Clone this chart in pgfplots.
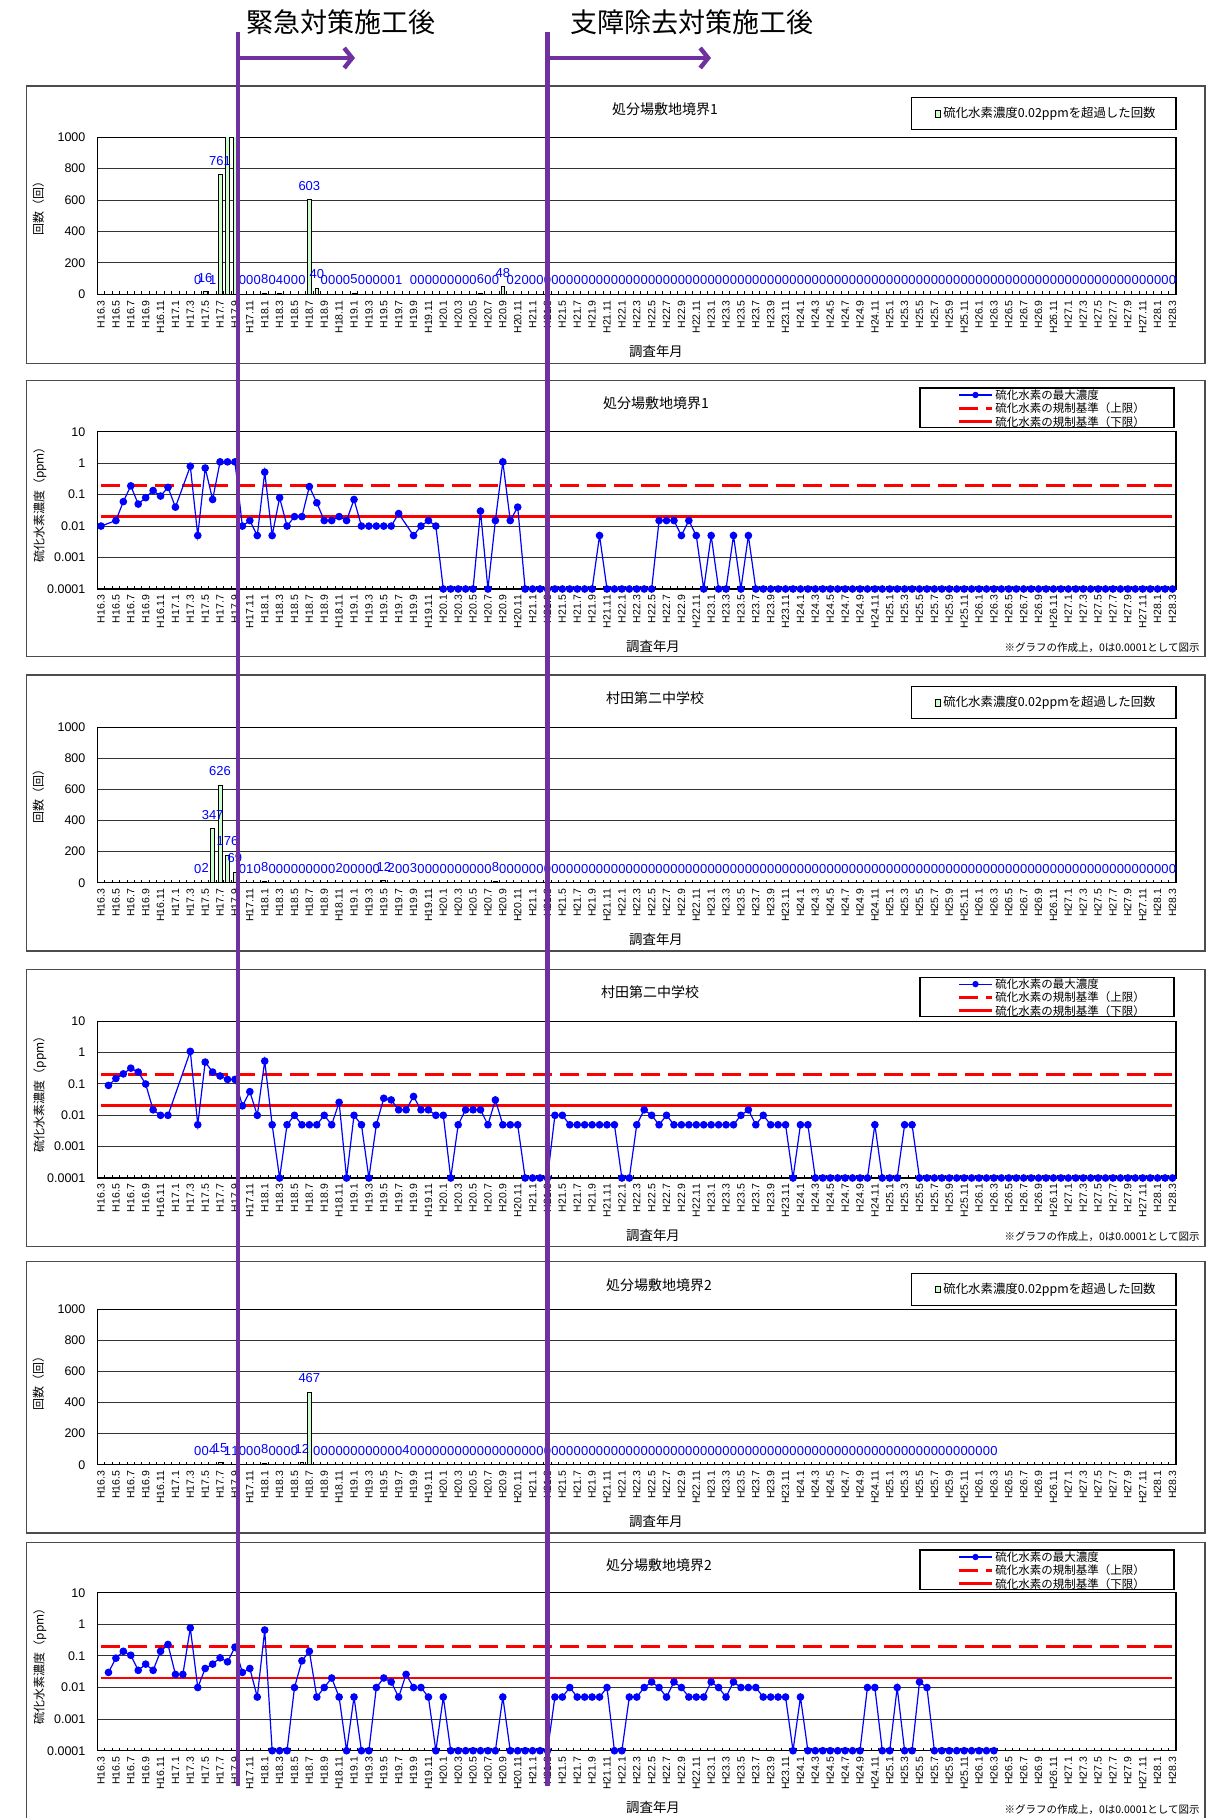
\documentclass[border=0pt]{standalone}
\usepackage{fontspec}
\setmainfont{Liberation Sans}
\newfontfamily\jp{Noto Sans CJK JP}
\usepackage{pgfplots}
\pgfplotsset{compat=1.18}
\usepackage{pgfplotstable}
\usetikzlibrary{calc,arrows.meta}
\definecolor{purp}{RGB}{112,48,160}
\definecolor{barfill}{RGB}{204,255,204}

\newcommand\ftitle{\jp\fontsize{7}{8}\selectfont}
\newcommand\fleg{\jp\fontsize{5.75}{6.5}\selectfont}
\newcommand\fbleg{\jp\fontsize{6.2}{7}\selectfont}
\newcommand\flab{\jp\fontsize{6}{7}\selectfont}
\newcommand\fxlab{\jp\fontsize{6.7}{7.5}\selectfont}
\newcommand\fnote{\jp\fontsize{5.25}{6}\selectfont}
\newcommand\ftop{\jp\fontsize{13.5}{15}\selectfont}

% ---- counts (bars) ----
\pgfplotstableread[row sep=\\]{x y\\
13 0\\14 16\\15 1\\16 761\\19 0\\20 0\\21 0\\22 8\\23 0\\24 4\\25 0\\26 0\\27 0\\28 603\\29 40\\30 0\\31 0\\32 0\\33 0\\34 5\\35 0\\36 0\\37 0\\38 0\\39 0\\40 1\\
42 0\\43 0\\44 0\\45 0\\46 0\\47 0\\48 0\\49 0\\50 0\\51 6\\52 0\\53 0\\54 48\\55 0\\56 2\\
57 0\\58 0\\59 0\\60 0\\61 0\\62 0\\63 0\\64 0\\65 0\\66 0\\67 0\\68 0\\69 0\\70 0\\71 0\\72 0\\73 0\\74 0\\75 0\\76 0\\77 0\\78 0\\79 0\\80 0\\
81 0\\82 0\\83 0\\84 0\\85 0\\86 0\\87 0\\88 0\\89 0\\90 0\\91 0\\92 0\\93 0\\94 0\\95 0\\96 0\\97 0\\98 0\\99 0\\100 0\\101 0\\102 0\\103 0\\104 0\\
105 0\\106 0\\107 0\\108 0\\109 0\\110 0\\111 0\\112 0\\113 0\\114 0\\115 0\\116 0\\117 0\\118 0\\119 0\\120 0\\121 0\\122 0\\123 0\\124 0\\125 0\\
126 0\\127 0\\128 0\\129 0\\130 0\\131 0\\132 0\\133 0\\134 0\\135 0\\136 0\\137 0\\138 0\\139 0\\140 0\\141 0\\142 0\\143 0\\144 0\\
}\barA
\pgfplotstableread[row sep=\\]{x y\\17 1100\\18 1100\\}\barAhi

\pgfplotstableread[row sep=\\]{x y\\
13 0\\14 2\\15 347\\16 626\\17 176\\18 69\\19 0\\20 1\\21 0\\22 8\\23 0\\24 0\\25 0\\26 0\\27 0\\28 0\\29 0\\30 0\\31 0\\32 2\\33 0\\34 0\\35 0\\36 0\\37 0\\38 12\\39 2\\40 0\\41 0\\42 3\\
43 0\\44 0\\45 0\\46 0\\47 0\\48 0\\49 0\\50 0\\51 0\\52 0\\53 8\\54 0\\55 0\\56 0\\57 0\\58 0\\59 0\\60 0\\61 0\\62 0\\63 0\\64 0\\65 0\\66 0\\
67 0\\68 0\\69 0\\70 0\\71 0\\72 0\\73 0\\74 0\\75 0\\76 0\\77 0\\78 0\\79 0\\80 0\\81 0\\82 0\\83 0\\84 0\\85 0\\86 0\\87 0\\88 0\\89 0\\90 0\\
91 0\\92 0\\93 0\\94 0\\95 0\\96 0\\97 0\\98 0\\99 0\\100 0\\101 0\\102 0\\103 0\\104 0\\105 0\\106 0\\107 0\\108 0\\109 0\\110 0\\111 0\\112 0\\
113 0\\114 0\\115 0\\116 0\\117 0\\118 0\\119 0\\120 0\\121 0\\122 0\\123 0\\124 0\\125 0\\126 0\\127 0\\128 0\\129 0\\130 0\\131 0\\132 0\\
133 0\\134 0\\135 0\\136 0\\137 0\\138 0\\139 0\\140 0\\141 0\\142 0\\143 0\\144 0\\
}\barB

\pgfplotstableread[row sep=\\]{x y\\
13 0\\14 0\\15 4\\16 15\\17 1\\18 1\\19 0\\20 0\\21 0\\22 8\\23 0\\24 0\\25 0\\26 0\\27 12\\28 467\\29 0\\30 0\\31 0\\32 0\\33 0\\34 0\\35 0\\36 0\\37 0\\38 0\\39 0\\40 0\\41 4\\
42 0\\43 0\\44 0\\45 0\\46 0\\47 0\\48 0\\49 0\\50 0\\51 0\\52 0\\53 0\\54 0\\55 0\\56 0\\57 0\\58 0\\59 0\\60 0\\61 0\\62 0\\63 0\\64 0\\65 0\\
66 0\\67 0\\68 0\\69 0\\70 0\\71 0\\72 0\\73 0\\74 0\\75 0\\76 0\\77 0\\78 0\\79 0\\80 0\\81 0\\82 0\\83 0\\84 0\\85 0\\86 0\\87 0\\88 0\\89 0\\
90 0\\91 0\\92 0\\93 0\\94 0\\95 0\\96 0\\97 0\\98 0\\99 0\\100 0\\101 0\\102 0\\103 0\\104 0\\105 0\\106 0\\107 0\\108 0\\109 0\\110 0\\
111 0\\112 0\\113 0\\114 0\\115 0\\116 0\\117 0\\118 0\\119 0\\120 0\\
}\barC

% ---- concentrations ----
\pgfplotstableread[row sep=\\]{x y\\
0 0.01\\2 0.015\\3 0.06\\4 0.19\\5 0.05\\6 0.08\\7 0.135\\8 0.09\\9 0.17\\10 0.04\\12 0.8\\13 0.005\\14 0.7\\15 0.07\\16 1.1\\17 1.1\\18 1.1\\
19 0.01\\20 0.015\\21 0.005\\22 0.52\\23 0.005\\24 0.08\\25 0.01\\26 0.02\\27 0.02\\28 0.18\\29 0.055\\30 0.015\\31 0.015\\32 0.02\\33 0.015\\34 0.07\\
35 0.01\\36 0.01\\37 0.01\\38 0.01\\39 0.01\\40 0.025\\42 0.005\\43 0.01\\44 0.015\\45 0.01\\46 0.0001\\47 0.0001\\48 0.0001\\49 0.0001\\50 0.0001\\
51 0.03\\52 0.0001\\53 0.015\\54 1.1\\55 0.015\\56 0.04\\57 0.0001\\58 0.0001\\59 0.0001\\60 0.0001\\61 0.0001\\62 0.0001\\63 0.0001\\64 0.0001\\65 0.0001\\66 0.0001\\
67 0.005\\68 0.0001\\69 0.0001\\70 0.0001\\71 0.0001\\72 0.0001\\73 0.0001\\74 0.0001\\75 0.015\\76 0.015\\77 0.015\\78 0.005\\79 0.015\\80 0.005\\
81 0.0001\\82 0.005\\83 0.0001\\84 0.0001\\85 0.005\\86 0.0001\\87 0.005\\
88 0.0001\\89 0.0001\\90 0.0001\\91 0.0001\\92 0.0001\\93 0.0001\\94 0.0001\\95 0.0001\\96 0.0001\\97 0.0001\\98 0.0001\\99 0.0001\\100 0.0001\\
101 0.0001\\102 0.0001\\103 0.0001\\104 0.0001\\105 0.0001\\106 0.0001\\107 0.0001\\108 0.0001\\109 0.0001\\110 0.0001\\111 0.0001\\112 0.0001\\
113 0.0001\\114 0.0001\\115 0.0001\\116 0.0001\\117 0.0001\\118 0.0001\\119 0.0001\\120 0.0001\\121 0.0001\\122 0.0001\\123 0.0001\\124 0.0001\\
125 0.0001\\126 0.0001\\127 0.0001\\128 0.0001\\129 0.0001\\130 0.0001\\131 0.0001\\132 0.0001\\133 0.0001\\134 0.0001\\135 0.0001\\136 0.0001\\
137 0.0001\\138 0.0001\\139 0.0001\\140 0.0001\\141 0.0001\\142 0.0001\\143 0.0001\\144 0.0001\\
}\concA

\pgfplotstableread[row sep=\\]{x y\\
1 0.09\\2 0.15\\3 0.21\\4 0.32\\5 0.24\\6 0.1\\7 0.015\\8 0.01\\9 0.01\\12 1.1\\13 0.005\\14 0.5\\15 0.24\\16 0.18\\17 0.14\\18 0.14\\
19 0.02\\20 0.057\\21 0.01\\22 0.54\\23 0.005\\24 0.0001\\25 0.005\\26 0.01\\27 0.005\\28 0.005\\29 0.005\\30 0.01\\31 0.005\\32 0.026\\
33 0.0001\\34 0.01\\35 0.005\\36 0.0001\\37 0.005\\38 0.035\\39 0.031\\40 0.015\\41 0.015\\42 0.04\\43 0.015\\44 0.015\\45 0.01\\46 0.01\\
47 0.0001\\48 0.005\\49 0.015\\50 0.015\\51 0.015\\52 0.005\\53 0.031\\54 0.005\\55 0.005\\56 0.005\\57 0.0001\\58 0.0001\\59 0.0001\\60 0.0001\\
61 0.01\\62 0.01\\63 0.005\\64 0.005\\65 0.005\\66 0.005\\67 0.005\\68 0.005\\69 0.005\\70 0.0001\\71 0.0001\\72 0.005\\73 0.015\\74 0.01\\
75 0.005\\76 0.01\\77 0.005\\78 0.005\\79 0.005\\80 0.005\\81 0.005\\82 0.005\\83 0.005\\84 0.005\\85 0.005\\86 0.01\\87 0.015\\88 0.005\\
89 0.01\\90 0.005\\91 0.005\\92 0.005\\93 0.0001\\94 0.005\\95 0.005\\96 0.0001\\97 0.0001\\98 0.0001\\99 0.0001\\100 0.0001\\101 0.0001\\
102 0.0001\\103 0.0001\\104 0.005\\105 0.0001\\106 0.0001\\107 0.0001\\108 0.005\\109 0.005\\
110 0.0001\\111 0.0001\\112 0.0001\\113 0.0001\\114 0.0001\\115 0.0001\\116 0.0001\\117 0.0001\\118 0.0001\\119 0.0001\\120 0.0001\\
121 0.0001\\122 0.0001\\123 0.0001\\124 0.0001\\125 0.0001\\126 0.0001\\127 0.0001\\128 0.0001\\129 0.0001\\130 0.0001\\131 0.0001\\132 0.0001\\
133 0.0001\\134 0.0001\\135 0.0001\\136 0.0001\\137 0.0001\\138 0.0001\\139 0.0001\\140 0.0001\\141 0.0001\\142 0.0001\\143 0.0001\\144 0.0001\\
}\concB

\pgfplotstableread[row sep=\\]{x y\\
1 0.03\\2 0.085\\3 0.14\\4 0.105\\5 0.035\\6 0.055\\7 0.035\\8 0.14\\9 0.23\\10 0.026\\11 0.026\\12 0.77\\13 0.01\\14 0.04\\15 0.055\\16 0.087\\
17 0.065\\18 0.19\\19 0.03\\20 0.04\\21 0.005\\22 0.66\\23 0.0001\\24 0.0001\\25 0.0001\\26 0.01\\27 0.07\\28 0.14\\29 0.005\\30 0.01\\31 0.02\\
32 0.005\\33 0.0001\\34 0.005\\35 0.0001\\36 0.0001\\37 0.01\\38 0.02\\39 0.015\\40 0.005\\41 0.026\\42 0.01\\43 0.01\\44 0.005\\45 0.0001\\
46 0.005\\47 0.0001\\48 0.0001\\49 0.0001\\50 0.0001\\51 0.0001\\52 0.0001\\53 0.0001\\54 0.005\\55 0.0001\\56 0.0001\\57 0.0001\\58 0.0001\\
59 0.0001\\60 0.0001\\61 0.005\\62 0.005\\63 0.01\\64 0.005\\65 0.005\\66 0.005\\67 0.005\\68 0.01\\69 0.0001\\70 0.0001\\71 0.005\\72 0.005\\
73 0.01\\74 0.015\\75 0.01\\76 0.005\\77 0.015\\78 0.01\\79 0.005\\80 0.005\\81 0.005\\82 0.015\\83 0.01\\84 0.005\\85 0.015\\86 0.01\\
87 0.01\\88 0.01\\89 0.005\\90 0.005\\91 0.005\\92 0.005\\93 0.0001\\94 0.005\\95 0.0001\\96 0.0001\\97 0.0001\\98 0.0001\\99 0.0001\\
100 0.0001\\101 0.0001\\102 0.0001\\103 0.01\\104 0.01\\105 0.0001\\106 0.0001\\107 0.01\\108 0.0001\\109 0.0001\\110 0.015\\111 0.01\\
112 0.0001\\113 0.0001\\114 0.0001\\115 0.0001\\116 0.0001\\117 0.0001\\118 0.0001\\119 0.0001\\120 0.0001\\
}\concC

\pgfplotsset{
 base/.style={
  scale only axis, width=539.45pt, xmin=-0.5, xmax=144.5, anchor=south west,
  axis line style={line width=0.75pt, black},
  xtick={0,2,...,144},
  xticklabels={H16.3,H16.5,H16.7,H16.9,H16.11,
   H17.1,H17.3,H17.5,H17.7,H17.9,H17.11,
   H18.1,H18.3,H18.5,H18.7,H18.9,H18.11,
   H19.1,H19.3,H19.5,H19.7,H19.9,H19.11,
   H20.1,H20.3,H20.5,H20.7,H20.9,H20.11,
   H21.1,H21.3,H21.5,H21.7,H21.9,H21.11,
   H22.1,H22.3,H22.5,H22.7,H22.9,H22.11,
   H23.1,H23.3,H23.5,H23.7,H23.9,H23.11,
   H24.1,H24.3,H24.5,H24.7,H24.9,H24.11,
   H25.1,H25.3,H25.5,H25.7,H25.9,H25.11,
   H26.1,H26.3,H26.5,H26.7,H26.9,H26.11,
   H27.1,H27.3,H27.5,H27.7,H27.9,H27.11,
   H28.1,H28.3},
  minor xtick={-0.5,0.5,...,144.5},
  tick align=inside, major tick length=0pt, minor tick length=1.6pt,
  minor tick style={line width=0.5pt, black},
  y tick style={draw=none},
  xtick pos=left, ytick pos=left,
  ymajorgrids, major grid style={line width=0.5pt, black!80},
  xticklabel style={font=\fontsize{5.25}{6}\selectfont, rotate=90, anchor=east, inner xsep=2.85pt, inner ysep=0pt},
  yticklabel style={font=\fontsize{6.25}{7}\selectfont, inner sep=0pt, xshift=-5.75pt},
  /pgf/number format/assume math mode=true,
 },
 barax/.style={base, ymin=0, ymax=1000, ytick={0,200,400,600,800,1000},
  yticklabels={0,200,400,600,800,1000}},
 logax/.style={base, ymin=0.0001, ymax=10,
  ytick={0.0001,0.001,0.01,0.1,1,10}, yticklabels={0.0001,0.001,0.01,0.1,1,10}},
 bars/.style={ybar, bar width=1.9pt, bar shift=0pt, fill=barfill, draw=black, line width=0.4pt},
 lbl/.style={nodes near coords,
  every node near coord/.append style={font=\fontsize{6.5}{7}\selectfont, text=blue, anchor=south, inner sep=0pt, yshift=4.5pt}},
 conc/.style={blue, line width=0.6pt, mark=*, mark size=1.6pt, mark options={solid, fill=blue, draw=blue}},
 limup/.style={red, line width=1.4pt, dash pattern=on 9.5pt off 4pt},
 limlo/.style={red, line width=1.4pt},
}

% px-based decorations (1px = 0.5pt, y downwards)
\newcommand\barpanel[6]{%
 \draw[black!70, line width=0.6pt] (26.5,#1) rectangle (1205,#2);
 \node[font=\ftitle] at (#4,#1+23) {#5};
 \draw[black, line width=0.6pt] (911.5,#1+11.5) rectangle (1176,#1+43.5);
 \draw[black, line width=0.4pt, fill=barfill] (935,#1+24.5) rectangle (940.5,#1+31);
 \node[font=\fbleg, anchor=west, inner sep=0pt] at (943,#1+28) {硫化水素濃度0.02ppmを超過した回数};
 \node[font=\flab, rotate=90] at (38.4,#6) {回数（回）};
 \node[font=\fxlab] at (656,#3+57) {調査年月};
}
\newcommand\linepanel[6]{%
 \draw[black!70, line width=0.6pt] (26.5,#1) rectangle (1205,#2);
 \node[font=\ftitle] at (#4,#1+23) {#5};
 \draw[black, line width=0.6pt] (920,#1+7.6) rectangle (1174,#1+47.3);
 \draw[blue, line width=0.6pt] (959,#1+14.6) -- (992,#1+14.6);
 \fill[blue] (975.5,#1+14.6) circle (3.2);
 \draw[red, line width=1.4pt, dash pattern=on 9.5pt off 4pt] (959,#1+27.9) -- (992,#1+27.9);
 \draw[red, line width=1.4pt] (959,#1+41.3) -- (992,#1+41.3);
 \node[font=\fleg, anchor=west, inner sep=0pt] at (995,#1+14.6) {硫化水素の最大濃度};
 \node[font=\fleg, anchor=west, inner sep=0pt] at (995,#1+27.9) {硫化水素の規制基準（上限）};
 \node[font=\fleg, anchor=west, inner sep=0pt] at (995,#1+41.3) {硫化水素の規制基準（下限）};
 \node[font=\flab, rotate=90] at (39.9,#6) {硫化水素濃度（ppm）};
 \node[font=\fxlab] at (653,#3+57) {調査年月};
 \node[font=\fnote, anchor=east, inner sep=0pt] at (1200,#3+59) {※グラフの作成上，0は0.0001として図示};
}

\begin{document}
\begin{tikzpicture}

% panel frames and texts
\begin{scope}[x=0.5pt,y=-0.5pt]
 \barpanel{86}{363.3}{294.3}{665}{処分場敷地境界1}{206}
 \linepanel{380.4}{656.7}{589}{656}{処分場敷地境界1}{502}
 \barpanel{675}{951}{882.7}{655}{村田第二中学校}{793}
 \linepanel{969.5}{1246.7}{1178}{650}{村田第二中学校}{1091}
 \barpanel{1261.8}{1533}{1464.7}{659}{処分場敷地境界2}{1380}
 \linepanel{1542.4}{1840}{1750.7}{659}{処分場敷地境界2}{1663}
 \node[font=\ftop, anchor=west, inner sep=0pt] at (246,22.5) {緊急対策施工後};
 \node[font=\ftop, anchor=west, inner sep=0pt] at (570,22.5) {支障除去対策施工後};
\end{scope}

% panel 1
\begin{axis}[barax, at={(48.65pt,-147.15pt)}, height=78.5pt]
 \addplot[bars, lbl] table[x=x,y=y] {\barA};
 \addplot[bars] table[x=x,y=y] {\barAhi};
 \coordinate (pA) at (axis cs:18.4,0);
 \coordinate (pB) at (axis cs:60,0);
\end{axis}

% panel 2
\begin{axis}[ymode=log, logax, at={(48.65pt,-294.5pt)}, height=78.65pt]
 \addplot[limup] coordinates {(0,0.2) (144,0.2)};
 \addplot[limlo] coordinates {(0,0.02) (144,0.02)};
 \addplot[conc] table[x=x,y=y] {\concA};
\end{axis}

% panel 3
\begin{axis}[barax, at={(48.65pt,-441.35pt)}, height=77.7pt]
 \addplot[bars, lbl] table[x=x,y=y] {\barB};
\end{axis}

% panel 4
\begin{axis}[ymode=log, logax, at={(48.65pt,-589pt)}, height=78.35pt]
 \addplot[limup] coordinates {(0,0.2) (144,0.2)};
 \addplot[limlo] coordinates {(0,0.02) (144,0.02)};
 \addplot[conc] table[x=x,y=y] {\concB};
\end{axis}

% panel 5
\begin{axis}[barax, at={(48.65pt,-732.35pt)}, height=77.7pt]
 \addplot[bars, lbl] table[x=x,y=y] {\barC};
\end{axis}

% panel 6
\begin{axis}[ymode=log, logax, at={(48.65pt,-875.35pt)}, height=79pt]
 \addplot[limup] coordinates {(0,0.2) (144,0.2)};
 \addplot[limlo] coordinates {(0,0.02) (144,0.02)};
 \addplot[conc] table[x=x,y=y] {\concC};
\end{axis}

% purple markers
\draw[purp, line width=2.3pt] let \p1=(pA) in (\x1,-16pt) -- (\x1,-893pt);
\draw[purp, line width=2.3pt] let \p1=(pB) in (\x1,-16pt) -- (\x1,-893pt);
\draw[purp, line width=2.2pt, -{Straight Barb[length=4pt,width=10pt]}] let \p1=(pA) in (\x1,-29pt) -- (177.5pt,-29pt);
\draw[purp, line width=2.2pt, -{Straight Barb[length=4pt,width=10pt]}] let \p1=(pB) in (\x1,-29pt) -- (355.5pt,-29pt);

\pgfresetboundingbox
\path[use as bounding box] (0,0) rectangle (606.5pt,-909pt);
\end{tikzpicture}
\end{document}
